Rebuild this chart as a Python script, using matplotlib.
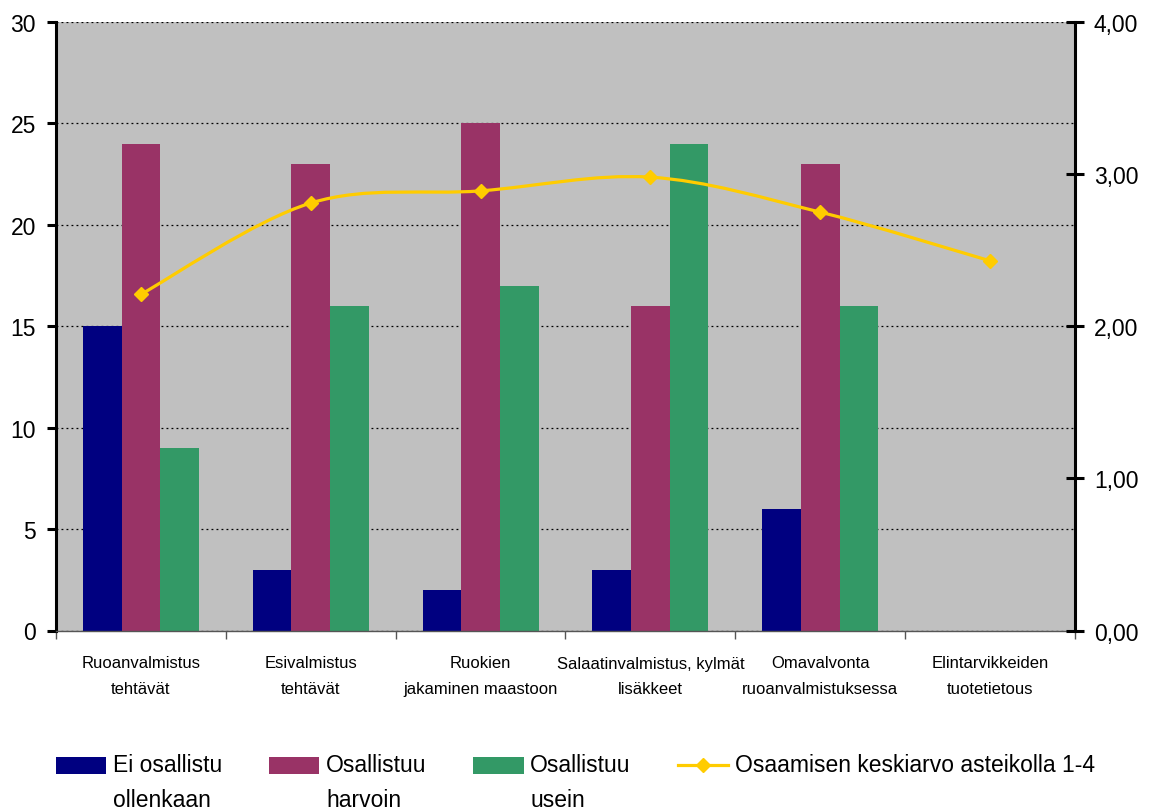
import matplotlib
matplotlib.use('Agg')
import matplotlib.pyplot as plt
import numpy as np
from matplotlib.path import Path
from matplotlib.patches import PathPatch, Rectangle, Patch
from matplotlib.lines import Line2D
from matplotlib.legend_handler import HandlerPatch, HandlerLine2D
from matplotlib.ticker import FixedLocator, FuncFormatter

plt.rcParams['font.family'] = ['Liberation Sans', 'DejaVu Sans']

categories = ['Ruoanvalmistus\ntehtävät', 'Esivalmistus\ntehtävät',
              'Ruokien\njakaminen maastoon', 'Salaatinvalmistus, kylmät\nlisäkkeet',
              'Omavalvonta\nruoanvalmistuksessa', 'Elintarvikkeiden\ntuotetietous']
ei_osallistu = [15, 3, 2, 3, 6, 0]
harvoin = [24, 23, 25, 16, 23, 0]
usein = [9, 16, 17, 24, 16, 0]
keskiarvo = [2.21, 2.81, 2.89, 2.98, 2.75, 2.43]

bar_labels = ['Ei osallistu\nollenkaan', 'Osallistuu\nharvoin', 'Osallistuu\nusein']
line_label = 'Osaamisen keskiarvo asteikolla 1-4\n'

navy = '#000080'
plum = '#993366'
sea = '#339966'
gold = '#FFCC00'

fig = plt.figure(figsize=(11.54, 8.12), dpi=100)
ax = fig.add_axes([56 / 1154, 1 - 631.5 / 812, (1075 - 56) / 1154, (631.5 - 23) / 812])
ax.set_facecolor('#C0C0C0')

x = np.arange(len(categories))
w = 0.228
ax.bar(x - w, ei_osallistu, w, color=navy, linewidth=0, zorder=2)
ax.bar(x, harvoin, w, color=plum, linewidth=0, zorder=2)
ax.bar(x + w, usein, w, color=sea, linewidth=0, zorder=2)

ax.set_xlim(-0.5, len(categories) - 0.5)
ax.set_ylim(0, 30)
ax.set_yticks(range(0, 31, 5))
ax.yaxis.grid(True, color='black', linestyle=(0, (1.5, 2.5)), linewidth=0.9, zorder=1)
ax.set_axisbelow(True)

ax.set_xticks(x)
ax.set_xticklabels(categories, fontsize=12, linespacing=1.9)
ax.xaxis.set_minor_locator(FixedLocator(np.arange(-0.5, len(categories), 1.0)))
ax.tick_params(axis='x', which='major', length=0, pad=18)
ax.tick_params(axis='x', which='minor', length=6, width=1, color='#555555', direction='out')
ax.tick_params(axis='y', length=6.5, width=2.2, direction='out', labelsize=16.5, pad=8)

for s in ('top', 'right'):
    ax.spines[s].set_visible(False)
ax.spines['left'].set_linewidth(2.2)
ax.spines['bottom'].set_linewidth(1)
ax.spines['bottom'].set_color('#555555')

# secondary axis for the mean score line
ax2 = ax.twinx()
ax2.set_ylim(0, 4)
ax2.set_yticks([0, 1, 2, 3, 4])
ax2.yaxis.set_major_formatter(FuncFormatter(lambda v, p: f'{v:.2f}'.replace('.', ',')))
ax2.tick_params(axis='y', length=13, width=2.2, direction='inout', labelsize=16.5, pad=7)
for s in ('top', 'left', 'bottom'):
    ax2.spines[s].set_visible(False)
ax2.spines['right'].set_linewidth(2.2)

# smoothed curve through the points (cubic Bezier, Catmull-Rom control points)
pts = np.column_stack([x, keskiarvo]).astype(float)
ext = np.vstack([pts[0], pts, pts[-1]])
verts = [tuple(pts[0])]
codes = [Path.MOVETO]
for i in range(len(pts) - 1):
    p0, p1, p2, p3 = ext[i], ext[i + 1], ext[i + 2], ext[i + 3]
    c1 = p1 + (p2 - p0) / 6
    c2 = p2 - (p3 - p1) / 6
    verts += [tuple(c1), tuple(c2), tuple(p2)]
    codes += [Path.CURVE4] * 3
curve = PathPatch(Path(verts, codes), facecolor='none', edgecolor=gold,
                  linewidth=2.3, zorder=3, capstyle='round', joinstyle='round')
ax2.add_patch(curve)
ax2.plot(x, keskiarvo, linestyle='none', marker='D', markersize=7,
         color=gold, zorder=4)

# legend: handles sit beside the first line of each two-line label
renderer = fig.canvas.get_renderer()
leg_size = 16.5
lp_w, lp_h, lp_d = renderer.get_text_width_height_descent(
    'lp', matplotlib.font_manager.FontProperties(family='Liberation Sans', size=leg_size), ismath=False)
leg_spacing = 1.65
lift = ((lp_h - lp_d) * leg_spacing + lp_d) * 72 / fig.dpi - 12.2


def raised_box(legend, orig_handle, xdescent, ydescent, width, height, fontsize):
    return Rectangle((-xdescent, -ydescent + lift), width, height)


class RaisedLine(HandlerLine2D):
    def create_artists(self, legend, orig_handle, xdescent, ydescent,
                       width, height, fontsize, trans):
        return super().create_artists(legend, orig_handle, xdescent,
                                      ydescent - 2 * lift, width, height,
                                      fontsize, trans)


box_handles = [Patch(facecolor=c, edgecolor='none') for c in (navy, plum, sea)]
line_handle = Line2D([], [], color=gold, linewidth=2.3, marker='D', markersize=7)
handles = box_handles + [line_handle]
labels = bar_labels + [line_label]
hmap = {h: HandlerPatch(patch_func=raised_box) for h in box_handles}
hmap[line_handle] = RaisedLine()
leg = fig.legend(handles, labels, loc='upper left', ncol=4,
                 bbox_to_anchor=(56 / 1154, 1 - 754 / 812), frameon=False,
                 fontsize=leg_size, handlelength=2.2, handleheight=0.78,
                 handletextpad=0.28, columnspacing=2.05, borderpad=0,
                 borderaxespad=0, handler_map=hmap)
for t in leg.get_texts():
    t.set_linespacing(leg_spacing)

fig.savefig('out.png', dpi=100)
